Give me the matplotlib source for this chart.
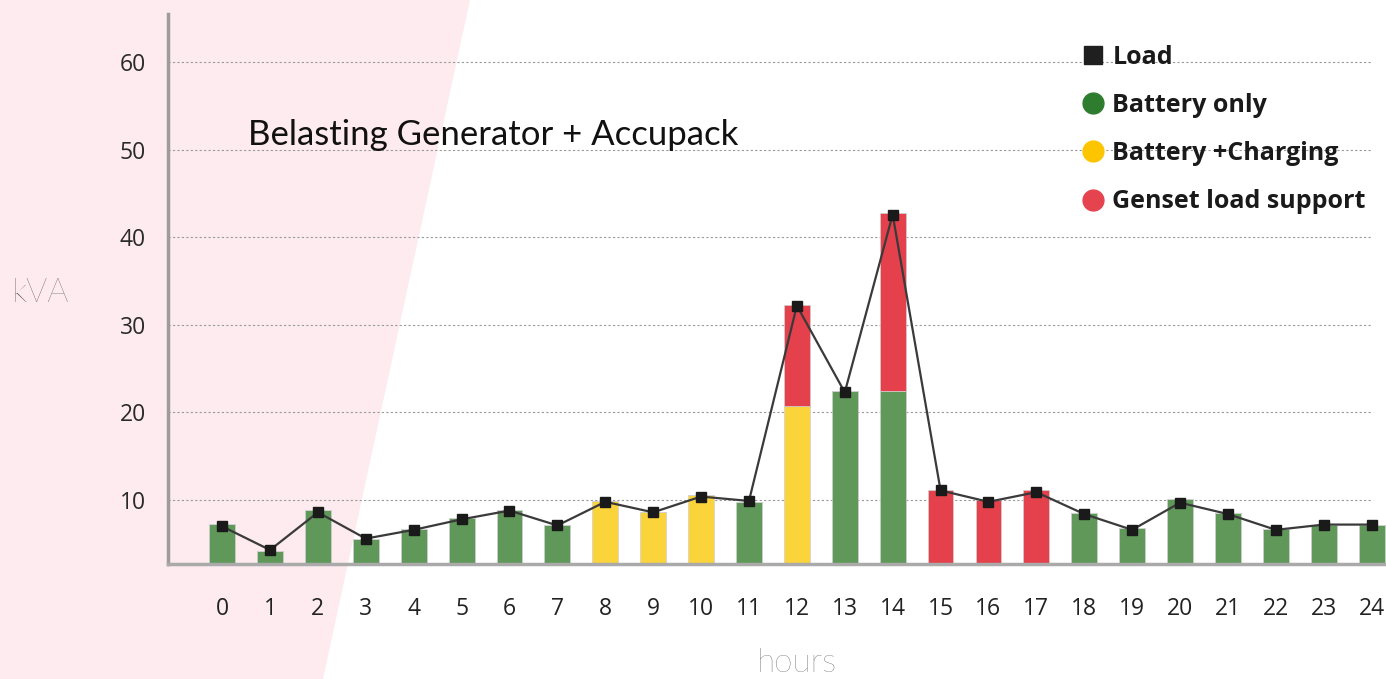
import matplotlib
matplotlib.use('Agg')
import matplotlib.pyplot as plt
from matplotlib.lines import Line2D
from matplotlib.patches import Polygon
import numpy as np

# hours of the day
hours = list(range(25))
# bar segments (kVA)
battery_only = [7.3, 4.2, 8.9, 5.6, 6.7, 7.9, 8.9, 7.2, 0, 0, 0, 9.8, 0, 22.5, 22.5,
                0, 0, 0, 8.5, 6.8, 10.1, 8.5, 6.7, 7.2, 7.2]
battery_charging = [0, 0, 0, 0, 0, 0, 0, 0, 9.9, 8.6, 10.6, 0, 20.7, 0, 0,
                    0, 0, 0, 0, 0, 0, 0, 0, 0, 0]
genset_support = [0, 0, 0, 0, 0, 0, 0, 0, 0, 0, 0, 0, 11.6, 0, 20.3,
                  11.2, 10.0, 11.1, 0, 0, 0, 0, 0, 0, 0]
# load line (kVA)
load = [7.0, 4.3, 8.6, 5.6, 6.6, 7.8, 8.8, 7.1, 9.8, 8.6, 10.4, 9.9, 32.2, 22.3, 42.6,
        11.1, 9.8, 10.9, 8.4, 6.6, 9.7, 8.4, 6.6, 7.2, 7.2]
y_ticks = [10, 20, 30, 40, 50, 60]

BAR_GREEN = '#5f9858'
BAR_YELLOW = '#fbd33b'
BAR_RED = '#e4414c'

fig = plt.figure(figsize=(13.86, 6.79), dpi=100)

# pink slanted background
fig.patches.append(Polygon([(0, 0), (0, 1), (470 / 1386, 1), (323 / 1386, 0)],
                           closed=True, transform=fig.transFigure,
                           facecolor='#fdebef', edgecolor='none', zorder=-5))

ax = fig.add_axes([168 / 1386, 1 - 564 / 679, 1 - 168 / 1386, (564 - 14) / 679])
ax.patch.set_alpha(0)

x = np.array(hours)
width = 0.54
bottom2 = np.array(battery_only) + np.array(battery_charging)
ax.bar(x, battery_only, width, color=BAR_GREEN, edgecolor='#d0d0d0', linewidth=0.5, zorder=2)
ax.bar(x, battery_charging, width, bottom=battery_only, color=BAR_YELLOW,
       edgecolor='#d0d0d0', linewidth=0.5, zorder=2)
ax.bar(x, genset_support, width, bottom=bottom2, color=BAR_RED,
       edgecolor='#d0d0d0', linewidth=0.5, zorder=2)
ax.plot(x, load, color='#3a3a3a', linewidth=1.6, marker='s', markersize=7,
        markerfacecolor='#1a1a1a', markeredgecolor='#1a1a1a', zorder=3)

ax.set_xlim(-1.13, 24.3)
ax.set_ylim(2.7, 65.5)
ax.hlines(y_ticks, -1.13, 24.0, colors='#9a9a9a', linestyles=(0, (2, 2)),
          linewidth=0.8, zorder=1)

for s in ['top', 'right']:
    ax.spines[s].set_visible(False)
ax.spines['left'].set_color('#9c9c9c')
ax.spines['left'].set_linewidth(2.5)
ax.spines['bottom'].set_color('#aaaaaa')
ax.spines['bottom'].set_linewidth(2.5)

ax.set_xticks(x)
ax.set_xticklabels([str(h) for h in hours], fontsize=16.5, family='Open Sans', color='#222222')
ax.set_yticks(y_ticks)
ax.set_yticklabels([str(v) for v in y_ticks], fontsize=16.5, family='Open Sans', color='#2a2a2a')
ax.tick_params(axis='both', length=0)
ax.tick_params(axis='y', pad=16)
ax.tick_params(axis='x', pad=24)

fig.text(12 / 1386, 1 - 293 / 679, 'kVA', fontsize=24, family='Lato', fontweight='light',
         color='#555555', va='center', ha='left')
fig.text(797 / 1386, 1 - 663 / 679, 'hours', fontsize=24, family='Lato', fontweight='light',
         color='#555555', va='center', ha='center')
fig.text(248 / 1386, 1 - 135 / 679, 'Belasting Generator + Accupack', fontsize=25,
         family='Lato', color='#111111', va='center', ha='left')

handles = [
    Line2D([], [], linestyle='none', marker='s', markersize=13, color='#1f1f1f'),
    Line2D([], [], linestyle='none', marker='o', markersize=15, color='#2e7d2e'),
    Line2D([], [], linestyle='none', marker='o', markersize=15, color='#fdc500'),
    Line2D([], [], linestyle='none', marker='o', markersize=15, color='#e5434d'),
]
labels = ['Load', 'Battery only', 'Battery +Charging', 'Genset load support']
leg = fig.legend(handles, labels, loc='upper left', bbox_to_anchor=(1055 / 1386, 1 - 22 / 679),
                 frameon=False, prop={'family': 'Open Sans', 'weight': 'bold', 'size': 18},
                 handletextpad=0.2, labelspacing=0.93, handlelength=1.2)
for t in leg.get_texts():
    t.set_color('#1a1a1a')

fig.savefig('out.png', dpi=100)
